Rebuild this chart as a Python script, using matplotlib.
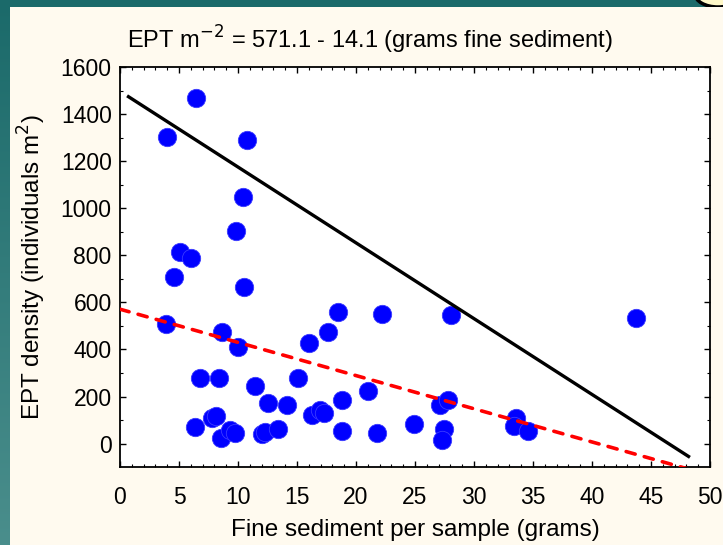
import matplotlib
matplotlib.use("Agg")
import matplotlib.pyplot as plt
import numpy as np
from matplotlib.patches import Rectangle, Ellipse
from matplotlib.ticker import MultipleLocator
from matplotlib.colors import LinearSegmentedColormap

# Data
sediment = [6.41, 4.01, 10.79, 10.40, 9.83, 5.08, 6.05, 4.60, 10.51, 3.87,
            8.62, 10.03, 6.78, 8.42, 11.44, 12.57, 14.18, 15.11, 6.33, 7.77,
            8.11, 8.53, 9.32, 9.75, 12.03, 12.29, 13.42, 18.45, 22.23, 28.08,
            17.6, 16.02, 21.02, 18.84, 16.24, 16.95, 17.31, 18.84, 21.75, 24.89,
            27.12, 27.77, 27.46, 27.26, 33.6, 33.4, 34.6, 43.73]
ept = [1467, 1303, 1288, 1046, 905, 814, 790, 709, 664, 510,
       476, 409, 279, 279, 246, 174, 164, 279, 69, 109,
       119, 25, 59, 45, 41, 48, 64, 558, 549, 548,
       476, 429, 224, 186, 123, 144, 130, 55, 47, 85,
       166, 184, 64, 17, 109, 73, 52, 534]

# Regression lines (intercept, slope, x-range)
mean_intercept, mean_slope = 571.1, -14.1
mean_xrange = [0.0, 48.0]
upper_intercept, upper_slope = 1497.0, -32.2
upper_xrange = [0.6, 48.3]

x_ticks = [0, 5, 10, 15, 20, 25, 30, 35, 40, 45, 50]
y_ticks = [0, 200, 400, 600, 800, 1000, 1200, 1400, 1600]

plt.rcParams['font.family'] = ['Liberation Sans', 'DejaVu Sans']

W, H = 723, 545
fig = plt.figure(figsize=(W / 100, H / 100), dpi=100)
fig.patch.set_facecolor('#FFFAEF')

# decorative frame (teal bands)
grad = np.linspace(0, 1, 256).reshape(-1, 1)
cmap = LinearSegmentedColormap.from_list('teal', ['#4A8E8C', '#1B6A6A'])
bg = fig.add_axes([0, 0, 10 / W, 1])
bg.imshow(grad, aspect='auto', cmap=cmap, origin='lower', extent=[0, 1, 0, 1])
bg.axis('off')
band = Rectangle((0, 1 - 7 / H), 1, 7 / H, transform=fig.transFigure,
                 facecolor='#1B6A6A', edgecolor='none', zorder=5)
fig.add_artist(band)
ell = Ellipse((718 / W, 1 + 6 / H), 46 / W, 26 / H, transform=fig.transFigure,
              facecolor='#FFF8C8', edgecolor='black', linewidth=2.5, zorder=6)
fig.add_artist(ell)
ell.set_clip_path(Rectangle((0, 1 - 7 / H), 1, 7 / H, transform=fig.transFigure))

ax = fig.add_axes([120 / W, (H - 466.7) / H, 590 / W, (466.7 - 67) / H])
ax.set_facecolor('white')

ax.scatter(sediment, ept, s=175, color='#0000FF', edgecolors='#3A3AFF',
           linewidths=0.6, zorder=3, clip_on=False)

xu = np.array(upper_xrange)
ax.plot(xu, upper_intercept + upper_slope * xu, color='black', lw=2.4, zorder=4,
        solid_capstyle='butt')
xm = np.array(mean_xrange)
ax.plot(xm, mean_intercept + mean_slope * xm, color='#FF0000', lw=2.6, zorder=4,
        linestyle=(0, (2.6, 2.6)), dash_capstyle='round')

ax.set_xlim(0, 50)
ax.set_ylim(-98, 1600)
ax.set_xticks(x_ticks)
ax.set_yticks(y_ticks)
ax.xaxis.set_minor_locator(MultipleLocator(1))
ax.yaxis.set_minor_locator(MultipleLocator(100))
ax.tick_params(which='both', direction='in', top=True, right=True, colors='black',
               labelsize=16.5)
ax.tick_params(which='major', length=4, width=1)
ax.tick_params(which='minor', length=2, width=0.8)
ax.tick_params(axis='x', pad=14)
ax.tick_params(axis='y', pad=6)
for sp in ax.spines.values():
    sp.set_linewidth(1.3)
    sp.set_color('black')

ax.set_xlabel('Fine sediment per sample (grams)', fontsize=17.5, labelpad=7)
ax.set_ylabel('EPT density (individuals m$^2$)', fontsize=17.5, labelpad=9)
fig.text(370 / W, 1 - 40 / H, 'EPT m$^{-2}$ = 571.1 - 14.1 (grams fine sediment)',
         fontsize=17, ha='center', va='center')

fig.savefig('out.png', dpi=100, facecolor=fig.get_facecolor())
